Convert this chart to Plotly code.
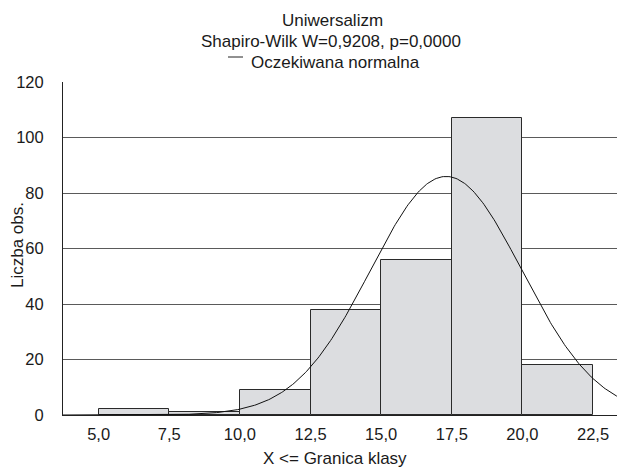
import numpy as np
import plotly.graph_objects as go

# Data
bin_edges = [5.0, 7.5, 10.0, 12.5, 15.0, 17.5, 20.0, 22.5]
counts = [2, 1, 9, 38, 56, 107, 18]
tick_labels = ["5,0", "7,5", "10,0", "12,5", "15,0", "17,5", "20,0", "22,5"]
y_ticks = [0, 20, 40, 60, 80, 100, 120]

# expected normal parameters
norm_mean = 17.3
norm_sd = 2.68
n_obs = sum(counts)
bin_width = 2.5

title_lines = ["Uniwersalizm", "Shapiro-Wilk W=0,9208, p=0,0000"]
legend_text = "Oczekiwana normalna"
x_title = "X <= Granica klasy"
y_title = "Liczba obs."

centers = [(a + b) / 2 for a, b in zip(bin_edges[:-1], bin_edges[1:])]
widths = [b - a for a, b in zip(bin_edges[:-1], bin_edges[1:])]

xr = [3.74, 23.63]
xs = np.linspace(xr[0], xr[1], 400)
ys = n_obs * bin_width / (norm_sd * np.sqrt(2 * np.pi)) * np.exp(-0.5 * ((xs - norm_mean) / norm_sd) ** 2)

FONT = "Liberation Sans, Arial, sans-serif"
FS = 17
TICK_FS = 16.5
TXT = "#1a1a1a"

# page geometry (page has 8px body margin)
PL, PT = 63, 82  # plot left / top on page


def ann(text, px, py, anchor="center", angle=0):
    return dict(text=text, xref="paper", yref="paper", x=0, y=1,
                xshift=px - PL, yshift=PT - py, xanchor=anchor, yanchor="middle",
                showarrow=False, textangle=angle, font=dict(size=FS, color=TXT))


fig = go.Figure()
fig.add_trace(go.Bar(
    x=centers, y=counts, width=widths,
    marker=dict(color="#dcdde0", line=dict(color="#2a2a2a", width=1)),
    showlegend=False,
))
fig.add_trace(go.Scatter(
    x=xs, y=ys, mode="lines", line=dict(color="#111111", width=1),
    showlegend=False,
))

fig.update_layout(
    width=617, height=466,
    margin=dict(l=55, r=0, t=74, b=59, autoexpand=False),
    paper_bgcolor="white", plot_bgcolor="white",
    font=dict(family=FONT, size=TICK_FS, color=TXT),
    bargap=0,
    xaxis=dict(
        range=xr, tickvals=bin_edges, ticktext=tick_labels,
        showgrid=False, zeroline=False, showline=True, linecolor="#222222", linewidth=1,
        ticks="", ticklabelstandoff=4, tickfont=dict(size=TICK_FS),
    ),
    yaxis=dict(
        range=[0, 120], tickvals=y_ticks,
        showgrid=True, gridcolor="#5a5a5a", gridwidth=1,
        zeroline=False, showline=True, linecolor="#222222", linewidth=1,
        ticks="", ticklabelstandoff=15, tickfont=dict(size=TICK_FS),
    ),
    annotations=[
        ann(title_lines[0], 332, 20),
        ann(title_lines[1], 331, 41),
        ann(legend_text, 249, 62, anchor="left"),
        ann(x_title, 335, 458),
        ann(y_title, 17, 245, angle=-90),
    ],
    shapes=[
        dict(type="line", xref="paper", yref="paper",
             x0=(228 - PL) / 562, x1=(243 - PL) / 562,
             y0=(415 - 57) / 333, y1=(415 - 57) / 333,
             line=dict(color="#222222", width=1)),
    ],
)

fig.write_html("out.html")
